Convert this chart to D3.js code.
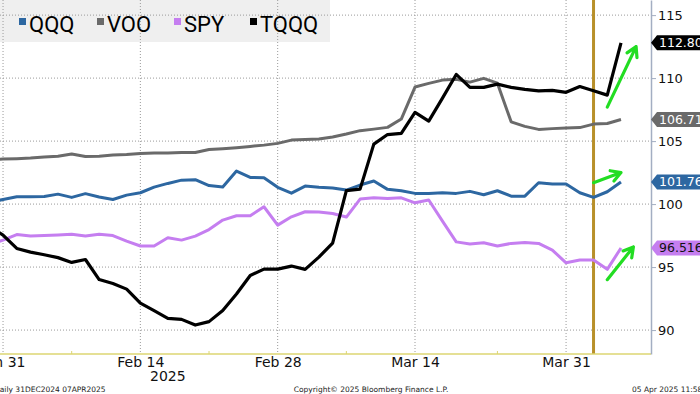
<!DOCTYPE html>
<html lang="en">
<head>
    <meta charset="UTF-8">
    <title>QQQ VOO SPY TQQQ</title>
    <script src="https://cdn.jsdelivr.net/npm/d3@7"></script>
    <style>
        body, html { margin: 0; padding: 0; background: #fff; overflow: hidden; }
        svg { display: block; }
    </style>
</head>
<body>
    <svg id="mainsvg"></svg>
    <script>
        // weekdays shown on the axis (Jan 30 sits just left of the crop)
        const dates = [
            '2025-01-30', '2025-01-31', '2025-02-03', '2025-02-04', '2025-02-05', '2025-02-06', '2025-02-07',
            '2025-02-10', '2025-02-11', '2025-02-12', '2025-02-13', '2025-02-14', '2025-02-17', '2025-02-18',
            '2025-02-19', '2025-02-20', '2025-02-21', '2025-02-24', '2025-02-25', '2025-02-26', '2025-02-27',
            '2025-02-28', '2025-03-03', '2025-03-04', '2025-03-05', '2025-03-06', '2025-03-07', '2025-03-10',
            '2025-03-11', '2025-03-12', '2025-03-13', '2025-03-14', '2025-03-17', '2025-03-18', '2025-03-19',
            '2025-03-20', '2025-03-21', '2025-03-24', '2025-03-25', '2025-03-26', '2025-03-27', '2025-03-28',
            '2025-03-31', '2025-04-01', '2025-04-02', '2025-04-03', '2025-04-04'
        ];

        const qqq = [100.16, 100.36, 100.58, 100.58, 100.6, 100.79, 100.53, 100.83, 100.56, 100.36,
            100.71, 100.9, 101.35, 101.64, 101.9, 101.94, 101.47, 101.35, 102.62, 102.12,
            102.09, 101.33, 100.87, 101.43, 101.33, 101.27, 101.11, 101.51, 101.83, 101.17,
            101.06, 100.85, 100.85, 100.9, 100.85, 101.01, 100.74, 101.06, 100.63, 100.63,
            101.69, 101.59, 101.59, 100.9, 100.53, 100.98, 101.76];
        const voo = [103.5, 103.57, 103.6, 103.65, 103.73, 103.8, 103.97, 103.77, 103.8, 103.89,
            103.93, 104.02, 104.05, 104.05, 104.09, 104.1, 104.33, 104.4, 104.48, 104.58,
            104.68, 104.82, 105.08, 105.12, 105.16, 105.33, 105.56, 105.83, 105.95, 106.09,
            106.75, 109.29, 109.58, 109.84, 109.9, 109.68, 109.98, 109.6, 106.53, 106.17,
            105.93, 105.99, 106.03, 106.07, 106.35, 106.4, 106.71];
        const spy = [96.75, 97.14, 97.58, 97.46, 97.5, 97.54, 97.6, 97.46, 97.6, 97.5,
            97.06, 96.67, 96.67, 97.33, 97.14, 97.46, 97.98, 98.73, 99.07, 99.07,
            99.79, 98.33, 98.99, 99.39, 99.37, 99.25, 98.97, 100.4, 100.5, 100.45,
            100.5, 100.1, 100.32, 98.65, 97.0, 96.83, 96.93, 96.67, 96.88, 96.96,
            96.88, 96.35, 95.34, 95.56, 95.56, 94.82, 96.516];
        const tqqq = [98.25, 97.54, 96.48, 96.19, 95.98, 95.75, 95.37, 95.6, 94.01, 93.69,
            93.25, 92.14, 91.55, 90.93, 90.85, 90.4, 90.67, 91.55, 92.86, 94.33,
            94.84, 94.84, 95.08, 94.82, 95.79, 96.9, 101.07, 101.19, 104.76, 105.52,
            105.61, 107.28, 106.59, 108.41, 110.29, 109.26, 109.26, 109.52, 109.26, 109.1,
            108.99, 109.02, 108.87, 109.33, 108.99, 108.65, 112.8];

        const seriesNames = ['QQQ', 'VOO', 'SPY', 'TQQQ'];
        const lastTags = ['101.76', '106.71', '96.516', '112.80'];
        const yTicks = [90, 95, 100, 105, 110, 115];
        const xTickDates = ['2025-01-31', '2025-02-14', '2025-02-28', '2025-03-14', '2025-03-31'];
        const xTickLabels = ['Jan 31', 'Feb 14', 'Feb 28', 'Mar 14', 'Mar 31'];
        const minorTickDates = ['2025-02-07', '2025-02-21', '2025-03-07', '2025-03-24'];
        const markerDate = '2025-04-02';

        // green annotation arrows: [date index, value] -> [date index, value]
        const arrows = [
            { from: [45.0, 107.7], to: [47.1, 112.5] },
            { from: [44.0, 101.7], to: [46.0, 102.5] },
            { from: [45.0, 94.0], to: [46.9, 96.6] }
        ];

        const colors = { QQQ: '#2d67a1', VOO: '#6a6a6a', SPY: '#c57ef0', TQQQ: '#000000' };
        const tagText = { QQQ: '#fff', VOO: '#fff', SPY: '#111', TQQQ: '#fff' };

        const width = 700, height = 394;
        const plotRight = 651, plotBottom = 354;

        const svg = d3.select('#mainsvg').attr('width', width).attr('height', height);

        const x = d3.scaleLinear().domain([0, dates.length - 1]).range([-10.7, 621]);
        const y = d3.scaleLinear().domain([88.1, 116.2]).range([plotBottom, 0]);
        const xi = d => dates.indexOf(d);

        // legend background
        svg.append('rect')
            .attr('x', 0).attr('y', 0).attr('width', 330).attr('height', 42)
            .attr('fill', '#efefef');

        // grid
        const grid = svg.append('g');
        grid.selectAll('.hg').data(yTicks).enter().append('line')
            .attr('x1', 0).attr('x2', plotRight)
            .attr('y1', d => y(d)).attr('y2', d => y(d))
            .attr('stroke', '#9a9a9a').attr('stroke-dasharray', '1,2');
        grid.selectAll('.vg').data(xTickDates).enter().append('line')
            .attr('x1', d => x(xi(d))).attr('x2', d => x(xi(d)))
            .attr('y1', 0).attr('y2', plotBottom)
            .attr('stroke', '#9a9a9a').attr('stroke-dasharray', '1,2');

        // Apr 2 marker
        svg.append('line')
            .attr('x1', x(xi(markerDate))).attr('x2', x(xi(markerDate)))
            .attr('y1', 0).attr('y2', plotBottom)
            .attr('stroke', '#b8902a').attr('stroke-width', 3);

        // lines
        const plot = svg.append('g');
        plot.append('clipPath').attr('id', 'clip')
            .append('rect').attr('x', 0).attr('y', 0).attr('width', plotRight).attr('height', plotBottom);
        const lineGen = d3.line().x((d, i) => x(i)).y(d => y(d));
        const seriesData = { QQQ: qqq, VOO: voo, SPY: spy, TQQQ: tqqq };
        seriesNames.forEach(name => {
            plot.append('path')
                .datum(seriesData[name])
                .attr('clip-path', 'url(#clip)')
                .attr('fill', 'none')
                .attr('stroke', colors[name])
                .attr('stroke-width', name === 'TQQQ' ? 3.2 : 3)
                .attr('stroke-linejoin', 'round')
                .attr('d', lineGen);
        });

        // arrows
        arrows.forEach(a => {
            const x1 = x(a.from[0]), y1 = y(a.from[1]);
            const x2 = x(a.to[0]), y2 = y(a.to[1]);
            const ang = Math.atan2(y2 - y1, x2 - x1);
            const hl = 11, ha = Math.PI / 6;
            const p = d3.path();
            p.moveTo(x1, y1); p.lineTo(x2, y2);
            p.moveTo(x2 - hl * Math.cos(ang - ha), y2 - hl * Math.sin(ang - ha));
            p.lineTo(x2, y2);
            p.lineTo(x2 - hl * Math.cos(ang + ha), y2 - hl * Math.sin(ang + ha));
            svg.append('path').attr('d', p.toString())
                .attr('fill', 'none').attr('stroke', '#22dd22')
                .attr('stroke-width', 3.2).attr('stroke-linecap', 'round').attr('stroke-linejoin', 'round');
        });

        // bottom axis
        const xAxis = d3.axisBottom(x)
            .tickValues(xTickDates.map(xi))
            .tickFormat((d, i) => xTickLabels[i])
            .tickSize(0).tickPadding(3);
        const xg = svg.append('g').attr('transform', `translate(0,${plotBottom})`).call(xAxis);
        xg.select('.domain').remove();
        xg.selectAll('text').attr('font-family', 'DejaVu Sans').attr('font-size', '14px').attr('fill', '#111');
        svg.append('line').attr('x1', 0).attr('x2', plotRight)
            .attr('y1', plotBottom).attr('y2', plotBottom)
            .attr('stroke', '#ddd672').attr('stroke-width', 1.5);
        svg.selectAll('.minor').data(minorTickDates).enter().append('line')
            .attr('x1', d => x(xi(d))).attr('x2', d => x(xi(d)))
            .attr('y1', plotBottom).attr('y2', plotBottom - 3)
            .attr('stroke', '#ddd672');
        svg.append('text')
            .attr('x', x(13)).attr('y', 381)
            .attr('text-anchor', 'middle')
            .attr('font-family', 'DejaVu Sans').attr('font-size', '14px').attr('fill', '#111')
            .text('2025');

        // right axis
        const yAxis = d3.axisRight(y).tickValues(yTicks).tickSize(5).tickSizeOuter(0).tickPadding(2);
        const yg = svg.append('g').attr('transform', `translate(${plotRight},0)`).call(yAxis);
        yg.select('.domain').attr('stroke', '#a3aec2').attr('stroke-width', 1.5);
        yg.selectAll('.tick line').attr('stroke', '#a3aec2');
        yg.selectAll('text').attr('font-family', 'DejaVu Sans').attr('font-size', '13px').attr('fill', '#111');

        // last-value tags
        seriesNames.forEach((name, k) => {
            const vals = seriesData[name];
            const ty = y(vals[vals.length - 1]);
            const h = 7.5;
            svg.append('path')
                .attr('d', `M${plotRight},${ty} L${plotRight + 6},${ty - h} L${width},${ty - h} L${width},${ty + h} L${plotRight + 6},${ty + h} Z`)
                .attr('fill', colors[name]);
            svg.append('text')
                .attr('x', plotRight + 8).attr('y', ty + 4.5)
                .attr('font-family', 'DejaVu Sans').attr('font-size', '12.5px')
                .attr('fill', tagText[name])
                .text(lastTags[k]);
        });

        // legend
        const legendX = [19, 97, 174, 250];
        const lg = svg.append('g');
        seriesNames.forEach((name, k) => {
            lg.append('rect')
                .attr('x', legendX[k]).attr('y', 18).attr('width', 7).attr('height', 7)
                .attr('fill', colors[name]);
            lg.append('text')
                .attr('x', legendX[k] + 10).attr('y', 31.5)
                .attr('font-family', 'Roboto').attr('font-size', '22px').attr('fill', '#000')
                .text(name);
        });

        // footer
        const foot = svg.append('g').attr('font-family', 'DejaVu Sans').attr('font-size', '7.5px').attr('fill', '#222');
        foot.append('text').attr('x', -6).attr('y', 392).text('Daily 31DEC2024 07APR2025');
        foot.append('text').attr('x', 371).attr('y', 392).attr('text-anchor', 'middle').text('Copyright\u00a9 2025 Bloomberg Finance L.P.');
        foot.append('text').attr('x', 632).attr('y', 392).text('05 Apr 2025 11:58');
    </script>
</body>
</html>
